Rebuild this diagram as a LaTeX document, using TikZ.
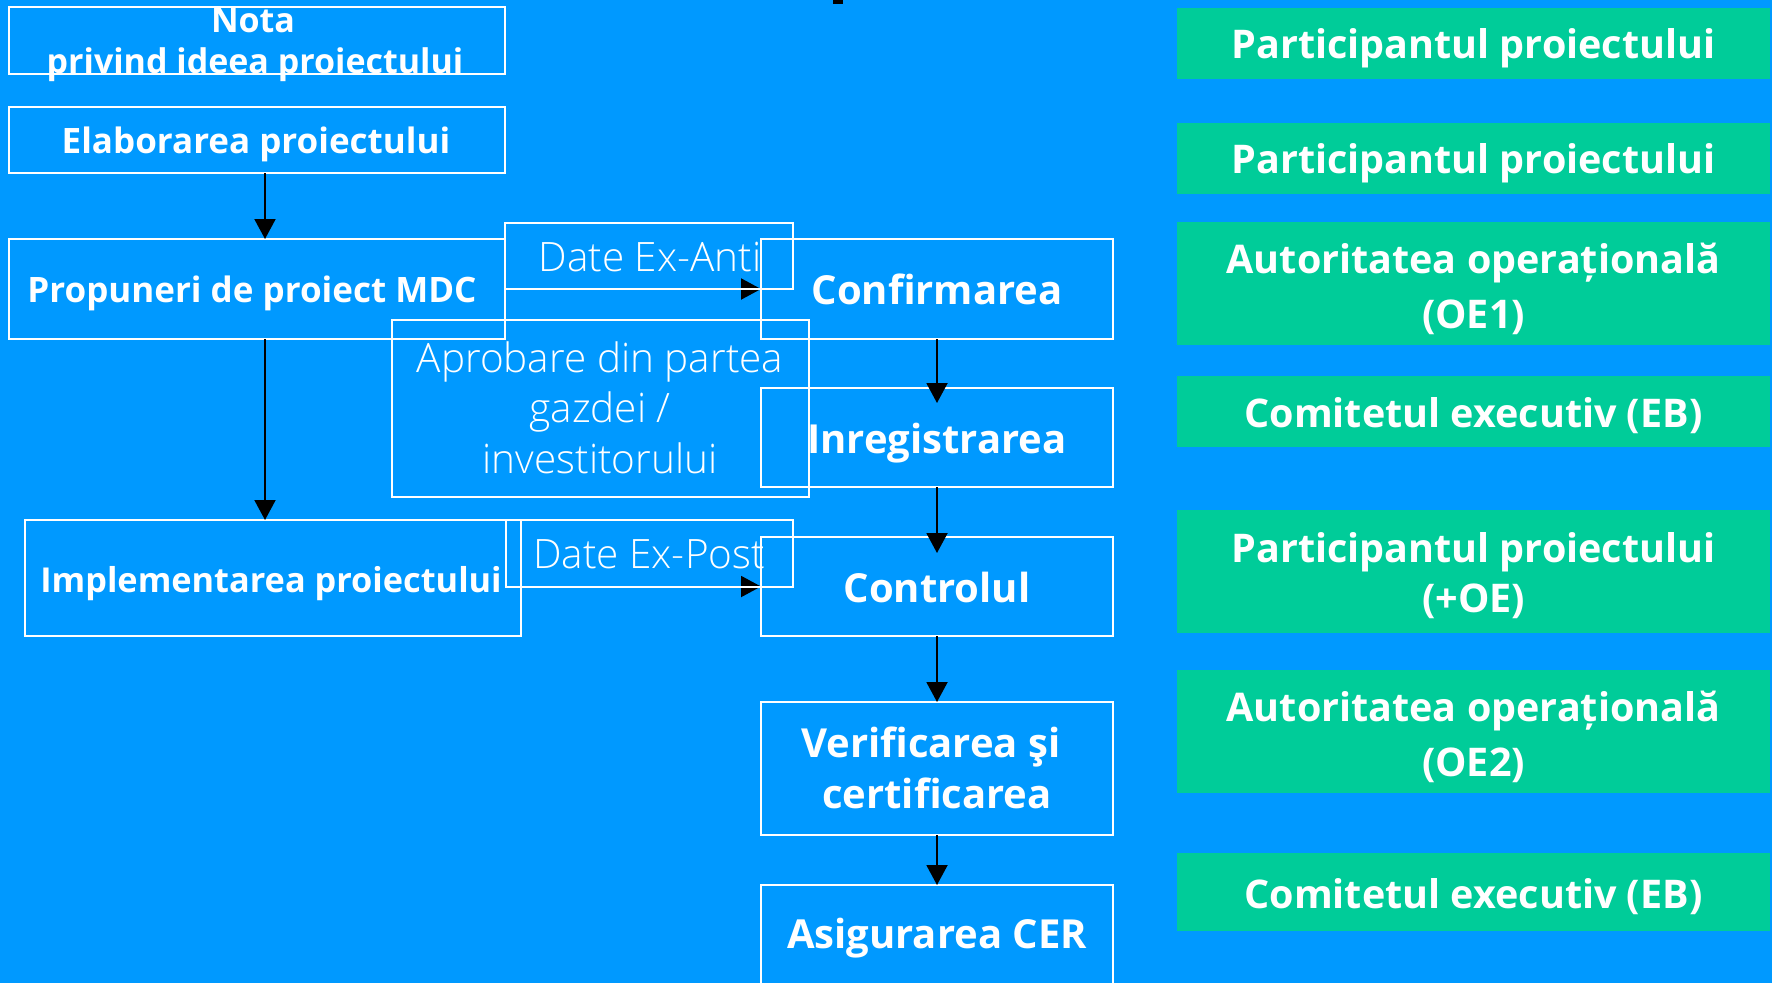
\documentclass[tikz,border=0pt]{standalone}
\usepackage{fontspec}
\setmainfont{Open Sans}
\newfontfamily\lightfont{Open Sans Light}
\usetikzlibrary{arrows.meta}
\definecolor{bg}{HTML}{0099FF}
\definecolor{gr}{HTML}{00CC99}
\tikzset{
  wbox/.style={draw=white, line width=2pt, inner sep=0pt, outer sep=0pt},
  gbox/.style={fill=gr, draw=none, inner sep=0pt, outer sep=0pt, minimum width=593pt},
  ltxt/.style={text=white, anchor=base, inner sep=0pt, font=\bfseries\fontsize{35}{35}\selectfont},
  ctxt/.style={text=white, anchor=base, inner sep=0pt, font=\bfseries\fontsize{40}{40}\selectfont},
  gtxt/.style={text=white, anchor=base, inner sep=0pt, font=\bfseries\fontsize{39.5}{39.5}\selectfont},
  lighttxt/.style={text=white, anchor=base, inner sep=0pt, font=\lightfont\fontsize{40.5}{40.5}\selectfont},
  arr/.style={draw=black, line width=2pt, -{Triangle[width=21pt,length=20pt]}}
}
\begin{document}
\begin{tikzpicture}[x=1pt,y=-1pt]
\fill[bg] (0,0) rectangle (1772,983);
\useasboundingbox (0,0) rectangle (1772,983);
\fill[black] (833,0) rectangle (843,4);

% left column boxes
\node[wbox, minimum width=496pt, minimum height=67pt] (nota) at (257,40.5) {};
\node[wbox, minimum width=496pt, minimum height=66pt] (elab) at (257,140) {};
\node[wbox, minimum width=496pt, minimum height=100pt] (prop) at (257,289) {};
\node[wbox, minimum width=496pt, minimum height=116pt] (impl) at (273,578) {};
\node[wbox, minimum width=417pt, minimum height=177pt] (aprob) at (600.5,408.5) {};

% centre column boxes
\node[wbox, minimum width=352pt, minimum height=100pt] (conf) at (937,289) {};
\node[wbox, minimum width=352pt, minimum height=99pt] (inreg) at (937,437.5) {};
\node[wbox, minimum width=352pt, minimum height=99pt] (ctrl) at (937,586.5) {};
\node[wbox, minimum width=352pt, minimum height=133pt] (verif) at (937,768.5) {};
\node[wbox, minimum width=352pt, minimum height=115pt] (asig) at (937,942.5) {};

% arrows
\coordinate (ax) at (265,0);
\draw[arr] (elab.south -| ax) -- (prop.north -| ax);
\draw[arr] (prop.south -| ax) -- (impl.north -| ax);
\draw[arr] (prop.east) -- (conf.west);
\draw[arr] (impl.east |- ctrl.west) -- (ctrl.west);
\draw[arr] (conf.south) -- ([yshift=-15pt]inreg.north);
\draw[arr] (inreg.south) -- ([yshift=-16pt]ctrl.north);
\draw[arr] (ctrl.south) -- (verif.north);
\draw[arr] (verif.south) -- (asig.north);

% data boxes on top
\node[wbox, minimum width=288pt, minimum height=66pt] (datean) at (649,256) {};
\node[wbox, minimum width=287pt, minimum height=67pt] (datepost) at (649.5,553.5) {};

% left texts
\node[ltxt, font=\bfseries\fontsize{34}{34}\selectfont] (t-nota1) at (253,32) {Nota};
\node[ltxt, font=\bfseries\fontsize{34}{34}\selectfont] (t-nota2) at (255,73) {privind ideea proiectului};
\node[ltxt] (t-elab) at (256,153) {Elaborarea proiectului};
\node[ltxt] (t-prop) at (252,302) {Propuneri de proiect MDC};
\node[ltxt, font=\bfseries\fontsize{34.3}{34.3}\selectfont] (t-impl) at (271,592) {Implementarea proiectului};

\node[lighttxt] (t-datean) at (650,271) {Date Ex-Anti};
\node[lighttxt] (t-aprob1) at (600,372) {Aprobare din partea};
\node[lighttxt] (t-aprob2) at (600,422) {gazdei /};
\node[lighttxt] (t-aprob3) at (600,473) {investitorului};
\node[lighttxt] (t-datepost) at (649,568) {Date Ex-Post};

% centre texts
\node[ctxt] (t-conf) at (937,304) {Confirmarea};
\node[ctxt] (t-inreg) at (937,453) {Inregistrarea};
\node[ctxt] (t-ctrl) at (937,602) {Controlul};
\node[ctxt] (t-verif1) at (931,757) {Verificarea şi};
\node[ctxt] (t-verif2) at (937,808) {certificarea};
\node[ctxt] (t-asig) at (937,948) {Asigurarea CER};

% right green boxes
\node[gbox, minimum height=71pt] (g1) at (1473.5,43.5) {};
\node[gbox, minimum height=71pt] (g2) at (1473.5,158.5) {};
\node[gbox, minimum height=123pt] (g3) at (1473.5,283.5) {};
\node[gbox, minimum height=71pt] (g4) at (1473.5,411.5) {};
\node[gbox, minimum height=123pt] (g5) at (1473.5,571.5) {};
\node[gbox, minimum height=123pt] (g6) at (1473.5,731.5) {};
\node[gbox, minimum height=78pt] (g7) at (1473.5,892) {};

\node[gtxt] (t-g1) at (1473.5,58) {Participantul proiectului};
\node[gtxt] (t-g2) at (1473.5,173) {Participantul proiectului};
\node[gtxt] (t-g3a) at (1473.5,273) {Autoritatea operațională};
\node[gtxt] (t-g3b) at (1473.5,328) {(OE1)};
\node[gtxt] (t-g4) at (1473.5,427) {Comitetul executiv (EB)};
\node[gtxt] (t-g5a) at (1473.5,562) {Participantul proiectului};
\node[gtxt] (t-g5b) at (1473.5,612) {(+OE)};
\node[gtxt] (t-g6a) at (1473.5,721) {Autoritatea operațională};
\node[gtxt] (t-g6b) at (1473.5,776) {(OE2)};
\node[gtxt] (t-g7) at (1473.5,908) {Comitetul executiv (EB)};
\end{tikzpicture}
\end{document}
